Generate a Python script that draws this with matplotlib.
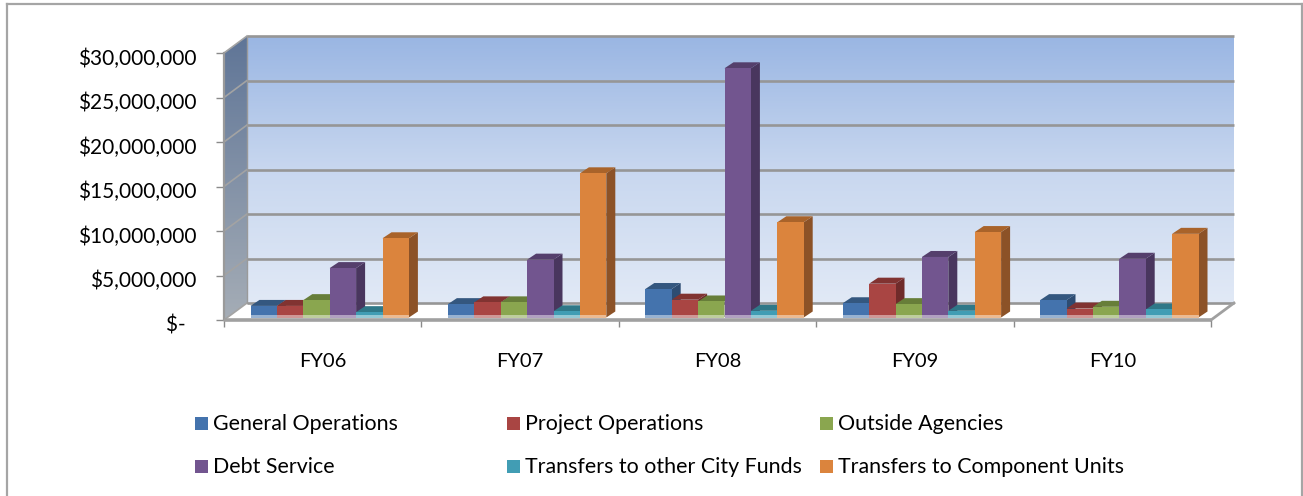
import matplotlib
matplotlib.use('Agg')
import matplotlib.pyplot as plt
from matplotlib.colors import LinearSegmentedColormap
from matplotlib.lines import Line2D
from matplotlib.patches import Polygon, Rectangle
from matplotlib.transforms import ScaledTranslation
import numpy as np

plt.rcParams['font.family'] = ['Lato', 'DejaVu Sans']

# Data
years = ['FY06', 'FY07', 'FY08', 'FY09', 'FY10']
general_ops = [1300000, 1500000, 3200000, 1600000, 1950000]
project_ops = [1300000, 1700000, 2000000, 3800000, 1000000]
outside_agencies = [1950000, 1700000, 1800000, 1500000, 1200000]
debt_service = [5550000, 6500000, 28000000, 6800000, 6600000]
transfers_city = [600000, 700000, 750000, 750000, 900000]
transfers_units = [8900000, 16200000, 10700000, 9600000, 9400000]
series_names = ['General Operations', 'Project Operations', 'Outside Agencies',
                'Debt Service', 'Transfers to other City Funds', 'Transfers to Component Units']
y_ticks = [0, 5000000, 10000000, 15000000, 20000000, 25000000, 30000000]
y_labels = ['$-  ', '$5,000,000', '$10,000,000', '$15,000,000', '$20,000,000', '$25,000,000', '$30,000,000']

series = [general_ops, project_ops, outside_agencies, debt_service, transfers_city, transfers_units]
# front, top, side
colors = [('#4473ad', '#34577f', '#2d4c72'), ('#a94543', '#813331', '#6f2b2a'),
          ('#8aa64f', '#677e39', '#5a6e32'), ('#72558f', '#553f6c', '#49365e'),
          ('#419db4', '#2f7888', '#296a78'), ('#db843d', '#a9632a', '#8c5227')]

W, H = 1303, 496
fig = plt.figure(figsize=(W / 100, H / 100), dpi=100)
ax = fig.add_axes([224 / W, (H - 320) / H, 987 / W, 267 / H])
ax.set_xlim(0, 5)
ax.set_ylim(0, 30000000)
for s in ax.spines.values():
    s.set_visible(False)
ax.patch.set_visible(False)

# pixel -> data helpers for the fake 3d depth
ux = 5 / 987
uy = 30000000 / 267
dx_wall, dy_wall = 23 * ux, 17 * uy
dx_bar, dy_bar = 9 * ux, 6 * uy
grid_c = '#969696'

# back wall
wall_cm = LinearSegmentedColormap.from_list('wall', ['#e1e9f6', '#c8d7ef', '#9ab6e3'])
ax.imshow(np.linspace(1, 0, 200).reshape(-1, 1), cmap=wall_cm, aspect='auto', zorder=1, clip_on=False,
          extent=[dx_wall, 5 + dx_wall, dy_wall, 30000000 + dy_wall])

# left wall
side_cm = LinearSegmentedColormap.from_list('side', ['#a5adb6', '#5f7597'])
side_im = ax.imshow(np.linspace(1, 0, 200).reshape(-1, 1), cmap=side_cm, aspect='auto', zorder=1,
                    extent=[0, dx_wall, 0, 30000000 + dy_wall])
side_poly = Polygon([(0, 0), (dx_wall, dy_wall), (dx_wall, 30000000 + dy_wall), (0, 30000000)],
                    closed=True, transform=ax.transData)
side_im.set_clip_path(side_poly)
side_im.set_clip_box(fig.bbox)
ax.set_xlim(0, 5)
ax.set_ylim(0, 30000000)

# floor
ax.add_patch(Polygon([(0, 0), (dx_wall, dy_wall), (5 + dx_wall, dy_wall), (5, 0)], closed=True,
                     fc='white', ec='none', zorder=2, clip_on=False))

# gridlines on walls
for t in y_ticks:
    ax.plot([dx_wall, 5 + dx_wall], [t + dy_wall, t + dy_wall], color=grid_c, lw=1.9, zorder=2,
            clip_on=False, solid_capstyle='butt')
    ax.plot([0, dx_wall], [t, t + dy_wall], color='#a3a3a3', lw=1.2, zorder=2, clip_on=False)
ax.plot([dx_wall, dx_wall], [dy_wall, 30000000 + dy_wall], color='#9a9a9a', lw=1.0, zorder=2, clip_on=False)
ax.plot([0, 0], [0, 30000000], color='#9a9a9a', lw=1.6, zorder=5, clip_on=False)
ax.plot([0, 5], [0, 0], color='#a0a0a0', lw=2.6, zorder=5, clip_on=False, solid_capstyle='butt')
ax.plot([5, 5 + dx_wall], [0, dy_wall], color='#a0a0a0', lw=2.0, zorder=5, clip_on=False)

# bars, left to right so later ones sit on earlier ones
bar_w = 26.4 * ux
bar_x0 = 26.5 * ux
base = 2.5 * uy
z = 3
for i in range(len(years)):
    for j, vals in enumerate(series):
        c_front, c_top, c_side = colors[j]
        x0 = i + bar_x0 + j * bar_w
        x1 = x0 + bar_w
        top = vals[i] + base
        z += 0.01
        ax.add_patch(Polygon([(x1, base), (x1 + dx_bar, base + dy_bar), (x1 + dx_bar, top + dy_bar), (x1, top)],
                             closed=True, fc=c_side, ec='none', zorder=z, clip_on=False))
        ax.add_patch(Polygon([(x0, top), (x0 + dx_bar, top + dy_bar), (x1 + dx_bar, top + dy_bar), (x1, top)],
                             closed=True, fc=c_top, ec='none', zorder=z, clip_on=False))
        ax.add_patch(Rectangle((x0, base), bar_w, vals[i], fc=c_front, ec='none', zorder=z, clip_on=False))
        # pale reflection at the foot of the bar
        ax.add_patch(Rectangle((x0, base), bar_w, 2.5 * uy, fc='white', alpha=0.45, ec='none',
                               zorder=z + 0.001, clip_on=False))

# axes ticks and labels
ax.set_yticks(y_ticks)
ax.set_yticklabels(y_labels)
ax.tick_params(axis='y', length=5.8, width=1.0, color='#8a8a8a', pad=14, labelsize=15, labelcolor='black')
for lab in ax.get_yticklabels():
    lab.set_transform(lab.get_transform() + ScaledTranslation(0, -3.5 / 100, fig.dpi_scale_trans))
ax.set_xticks(range(6))
ax.set_xticklabels([])
ax.tick_params(axis='x', which='major', length=5, width=1.0, color='#8a8a8a')
ax.set_xticks(np.arange(len(years)) + 0.5, minor=True)
ax.set_xticklabels(years, minor=True)
ax.tick_params(axis='x', which='minor', length=0, pad=24, labelsize=14.5, labelcolor='black')
ax.set_zorder(2)

# legend placed by hand like the original, two rows of three
legend_x = [195, 507, 820]
legend_y = [423, 466]
for k, name in enumerate(series_names):
    lx = legend_x[k % 3]
    ly = legend_y[k // 3]
    fig.patches.append(Rectangle((lx / W, 1 - (ly + 7) / H), 13 / W, 13 / H, fc=colors[k][0], ec='none',
                                 transform=fig.transFigure))
    fig.text((lx + 18) / W, 1 - (ly + 1) / H, name, fontsize=15.4, va='center', ha='left', color='black')

# chart outline
border = '#a5a5a5'
for xs, ys in [([7, 1302], [4, 4]), ([7, 7], [4, 496]), ([1302, 1302], [4, 496])]:
    fig.add_artist(Line2D([v / W for v in xs], [1 - v / H for v in ys], color=border, lw=1.6,
                          transform=fig.transFigure))

fig.savefig('out.png', dpi=100)
